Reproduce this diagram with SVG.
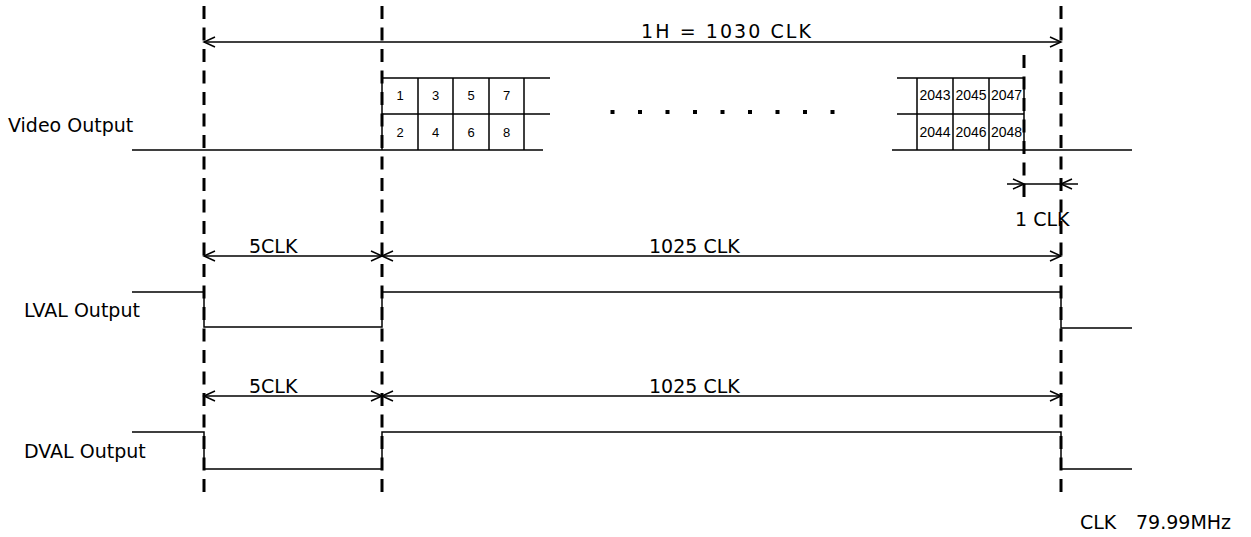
<svg xmlns="http://www.w3.org/2000/svg" width="1251" height="537" viewBox="0 0 1251 537">
<style>
.ln{stroke:#000;stroke-width:1.5;fill:none}
.ds{stroke:#000;stroke-width:3;fill:none;stroke-dasharray:13 8.5}
.ar{stroke:#000;stroke-width:1.5;fill:none;marker-start:url(#ah);marker-end:url(#ah)}
.t{font-family:"DejaVu Sans",Verdana,sans-serif;font-size:19px;fill:#000}
.c{font-family:"Liberation Sans",Arial,sans-serif;font-size:13px;fill:#000;text-anchor:middle}
.c2{font-family:"Liberation Sans",Arial,sans-serif;font-size:14px;fill:#000;text-anchor:middle}
</style>
<defs>
<marker id="ah" markerUnits="userSpaceOnUse" markerWidth="14" markerHeight="14" refX="11" refY="6" orient="auto-start-reverse" overflow="visible">
<path d="M0,1 L11,6 L0,11" fill="none" stroke="#000" stroke-width="1.5"/>
</marker>
</defs>
<rect width="1251" height="537" fill="#fff"/>
<g id="guides">
<line class="ds" x1="204" y1="6" x2="204" y2="498"/>
<line class="ds" x1="382" y1="6" x2="382" y2="498"/>
<line class="ds" x1="1061" y1="6" x2="1061" y2="498"/>
<line class="ds" x1="1024" y1="55" x2="1024" y2="200"/>
</g>
<g id="video">
<text class="t" x="8" y="132">Video Output</text>
<path class="ln" d="M132,150 H382 M382,78 H550 M382,114 H550 M382,150 H543 M418,78 V150 M453,78 V150 M489,78 V150 M524,78 V150 M382,78 V150"/>
<path class="ln" d="M897,78 H1024 M897,114 H1024 M892,150 H1132 M917,78 V150 M953,78 V150 M989,78 V150 M1024,78 V150"/>
<text class="c" x="400" y="100">1</text><text class="c" x="435.5" y="100">3</text><text class="c" x="471" y="100">5</text><text class="c" x="506.5" y="100">7</text>
<text class="c" x="400" y="137">2</text><text class="c" x="435.5" y="137">4</text><text class="c" x="471" y="137">6</text><text class="c" x="506.5" y="137">8</text>
<text class="c2" x="935" y="100">2043</text><text class="c2" x="971" y="100">2045</text><text class="c2" x="1006.5" y="100">2047</text>
<text class="c2" x="935" y="137">2044</text><text class="c2" x="971" y="137">2046</text><text class="c2" x="1006.5" y="137">2048</text>
<g fill="#000">
<rect x="610.5" y="110" width="4" height="4"/><rect x="638" y="110" width="4" height="4"/><rect x="665.5" y="110" width="4" height="4"/><rect x="693" y="110" width="4" height="4"/><rect x="720.5" y="110" width="4" height="4"/><rect x="748" y="110" width="4" height="4"/><rect x="775.5" y="110" width="4" height="4"/><rect x="803" y="110" width="4" height="4"/><rect x="830.5" y="110" width="4" height="4"/>
</g>
</g>
<g id="lval">
<text class="t" x="24" y="317">LVAL Output</text>
<path class="ln" d="M132,292 H204 V327 H382 V292 H1061 V328 H1132"/>
</g>
<g id="dval">
<text class="t" x="24" y="458">DVAL Output</text>
<path class="ln" d="M132,432 H204 V469 H382 V432 H1061 V469 H1132"/>
</g>
<g id="connectors">
<line class="ar" x1="204" y1="42" x2="1061" y2="42"/>
<line class="ar" x1="204" y1="256" x2="382" y2="256"/>
<line class="ar" x1="382" y1="256" x2="1061" y2="256"/>
<line class="ar" x1="204" y1="396" x2="382" y2="396"/>
<line class="ar" x1="382" y1="396" x2="1061" y2="396"/>
<path class="ln" d="M1007,184 H1078"/>
<path class="ln" d="M1013,179 L1024,184 L1013,189 M1072,179 L1061,184 L1072,189"/>
</g>
<g id="labels">
<text class="t" x="641" y="38" font-size="20" textLength="170" lengthAdjust="spacing">1H = 1030 CLK</text>
<text class="t" x="249" y="253">5CLK</text>
<text class="t" x="649" y="253">1025 CLK</text>
<text class="t" x="249" y="393">5CLK</text>
<text class="t" x="649" y="393">1025 CLK</text>
<text class="t" x="1015" y="226">1 CLK</text>
<text class="t" x="1080" y="529">CLK</text>
<text class="t" x="1136" y="529">79.99MHz</text>
</g>
</svg>
